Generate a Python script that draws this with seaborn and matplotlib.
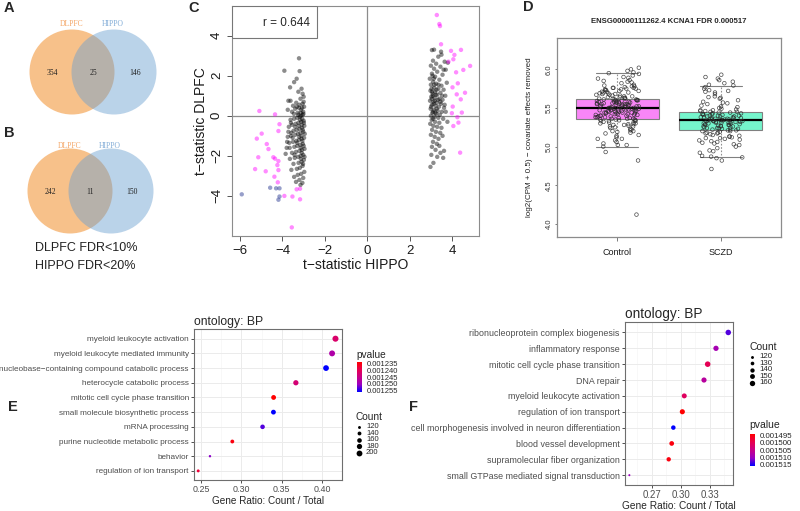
import numpy as np
import pandas as pd
import matplotlib
matplotlib.use('Agg')
import matplotlib.pyplot as plt
import seaborn as sns
from matplotlib.patches import Circle, Rectangle
from matplotlib.colors import LinearSegmentedColormap, Normalize
from matplotlib.cm import ScalarMappable
from matplotlib.ticker import AutoMinorLocator

sns.set_style('white')
plt.rcParams['font.family'] = ['Liberation Sans', 'DejaVu Sans']
plt.rcParams['axes.unicode_minus'] = True

# ---- A / B: venn counts (DLPFC only, both, HIPPO only)
venn_sets = ['DLPFC', 'HIPPO']
venn_a = [354, 25, 146]
venn_b = [242, 11, 150]

# ---- C: t-statistics, HIPPO (x) vs DLPFC (y)
left_x = [-3.22, -3.91, -3.19, -3.33, -3.45, -3.64, -3.10, -3.05, -3.72, -3.62, -3.25, -3.00, -3.15, -3.35,
          -3.05, -2.98, -3.20, -3.50, -3.75, -3.55, -3.40, -3.12, -3.02, -3.28,
          -3.05, -3.18, -3.30, -3.45, -3.62, -3.00, -3.12, -3.25, -3.38, -3.55, -3.70, -2.97, -3.08, -3.20,
          -3.33, -3.48, -3.02, -3.15, -3.27, -3.40, -3.60, -3.75, -2.98, -3.10, -3.22, -3.35, -3.50, -3.68,
          -3.04, -3.16, -3.30, -3.44, -3.80, -2.96, -3.08, -3.20, -3.36, -3.55, -3.02, -3.14, -3.26, -3.42,
          -3.65, -2.99, -3.10, -3.24, -3.48, -3.05, -3.18, -3.32, -3.58, -2.97, -3.12, -3.28, -3.45, -3.02,
          -3.20, -3.36, -3.06, -3.15,
          -3.01, -3.07, -3.13, -2.99, -3.09, -3.17, -3.04, -3.11, -2.95, -3.06, -3.14, -3.00, -3.09, -2.96,
          -3.03, -3.13, -3.21, -3.23, -3.26, -3.31, -3.40, -3.52, -3.43, -3.58, -3.66, -3.00, -3.08, -3.14,
          -3.22, -3.32, -3.46, -3.60, -3.72, -3.78, -3.85]
left_y = [2.87, 2.25, 2.23, 1.85, 1.68, 1.42, 1.35, 1.10, 0.75, 0.75, 1.20, 0.95, 0.85, 0.65,
          0.60, 0.45, 0.55, 0.50, 0.30, 0.20, 0.35, 0.30, 0.20, 0.15,
          0.05, -0.05, -0.10, -0.15, -0.20, -0.25, -0.30, -0.35, -0.40, -0.45, -0.55, -0.50, -0.60, -0.65,
          -0.70, -0.75, -0.80, -0.85, -0.90, -0.95, -1.00, -1.05, -1.10, -1.15, -1.20, -1.25, -1.30, -1.35,
          -1.40, -1.45, -1.50, -1.55, -1.60, -1.65, -1.70, -1.75, -1.80, -1.85, -1.95, -2.00, -2.05, -2.10,
          -2.15, -2.20, -2.30, -2.35, -2.40, -2.50, -2.60, -2.65, -2.70, -2.80, -2.90, -2.95, -3.05, -3.10,
          -3.20, -3.30, -3.35, -3.45,
          0.10, -0.15, 0.00, -0.35, -0.45, -0.20, -0.70, -1.00, -0.90, -1.25, -1.60, -1.50, -1.85, -2.05,
          -2.40, -2.15, -1.05, -0.50, 0.05, -1.35, -0.55, -1.10, -1.95, -0.85, -1.60, 0.70, 0.40, 0.15,
          0.40, 0.45, 0.10, -0.35, -0.80, -1.30, -1.90]
right_x = [3.15, 3.05, 3.50, 3.35, 3.10, 3.65, 3.25, 3.00, 3.45, 3.15, 3.70, 3.30, 3.05, 3.55, 3.20,
           2.95, 3.40, 3.10, 3.75, 3.25, 3.00, 3.50, 3.15, 3.35, 3.60, 2.98, 3.20, 3.45, 3.08, 3.30,
           3.68, 3.02, 3.18, 3.40, 3.55, 2.96, 3.12, 3.28, 3.48, 3.05, 3.22, 3.38, 3.62, 2.99, 3.14,
           3.32, 3.52, 3.07, 3.25, 3.42, 3.00, 3.17, 3.35, 3.58, 3.04, 3.20, 3.40, 2.97, 3.12, 3.30,
           3.50, 3.06, 3.24, 3.44, 3.00, 3.18, 3.36, 3.10, 3.28, 3.05, 3.22, 3.62, 3.45, 3.02, 3.30,
           3.58, 3.12, 2.98,
           3.03, 3.09, 3.13, 3.01, 3.10, 3.19, 3.06, 3.23, 3.16, 3.27, 3.11, 3.04, 3.21, 3.33, 3.14,
           3.08, 3.26, 3.36, 3.45, 3.53, 3.65, 3.70, 3.78, 3.55, 3.40, 3.60, 3.80, 3.48]
right_y = [3.30, 3.28, 3.05, 2.95, 2.75, 2.70, 2.60, 2.50, 2.45, 2.35, 2.30, 2.20, 2.10, 2.05, 1.95,
           1.85, 1.80, 1.70, 1.65, 1.60, 1.55, 1.50, 1.40, 1.35, 1.30, 1.25, 1.20, 1.15, 1.10, 1.05,
           1.00, 0.95, 0.90, 0.85, 0.80, 0.75, 0.70, 0.65, 0.60, 0.55, 0.50, 0.45, 0.40, 0.35, 0.30,
           0.25, 0.20, 0.15, 0.10, 0.05, 0.00, -0.05, -0.10, -0.15, -0.20, -0.30, -0.35, -0.40, -0.50, -0.55,
           -0.60, -0.70, -0.80, -0.85, -0.95, -1.05, -1.15, -1.30, -1.40, -1.55, -1.70, -1.75, -1.85, -1.95, -2.05,
           -2.10, -2.35, -2.55,
           1.35, 1.00, 0.60, 0.45, 0.20, 0.75, 1.20, 1.05, 1.55, 0.35, -0.15, 0.85, 0.15, 0.80, 1.85,
           2.00, 1.30, 1.55, 0.70, 1.00, 0.55, 0.20, -0.30, -1.00, -1.50, 2.30, 2.65, 3.20]
magenta_x = [-5.09, -4.35, -5.21, -4.98, -4.74, -4.66, -4.14, -4.19, -5.14, -5.29, -4.79, -4.43, -4.35,
             -4.19, -4.24, -4.38, -4.19, -4.22, -3.91, -3.53, -3.17, -3.33, -3.17, -3.56,
             3.28, 3.40, 3.43, 3.48, 3.95, 4.11, 4.42, 4.06, 3.83, 4.85, 4.53, 4.19, 4.27, 4.02, 4.22,
             4.61, 4.03, 4.41, 4.46, 3.99, 4.25, 4.06, 4.30, 4.38]
magenta_y = [0.24, 0.07, -1.14, -0.89, -1.41, -1.66, -0.42, -0.76, -2.07, -2.66, -2.77, -2.07, -2.14,
             -2.26, -2.46, -3.04, -2.71, -3.32, -4.00, -4.03, -4.17, -3.67, -3.64, -5.57,
             5.03, 4.58, 4.48, 3.57, 3.24, 3.04, 3.29, 2.82, 2.70, 2.49, 2.29, 2.17, 1.62, 1.42, 1.07,
             1.15, 0.46, 0.82, 0.16, 0.13, -0.07, -0.51, -0.34, -1.84]
slate_x = [-5.92, -4.58, -4.30, -4.14, -4.14, -4.19]
slate_y = [-3.92, -3.59, -3.62, -3.62, -4.03, -4.19]
r_value = 0.644

# ---- D: KCNA1 expression
d_title = 'ENSG00000111262.4 KCNA1 FDR 0.000517'
d_groups = ['Control', 'SCZD']
control_expr = [4.12, 4.82, 4.93, 5.00, 5.02, 5.02, 5.04, 5.08, 5.10, 5.10, 5.12, 5.15, 5.17, 5.18, 5.20,
                5.20, 5.21, 5.22, 5.24, 5.25, 5.26, 5.27, 5.28, 5.29, 5.30, 5.30, 5.31, 5.32, 5.33, 5.33,
                5.34, 5.35, 5.35, 5.36, 5.36, 5.37, 5.38, 5.38, 5.39, 5.40, 5.40, 5.41, 5.41, 5.42, 5.42,
                5.43, 5.43, 5.44, 5.44, 5.45, 5.45, 5.46, 5.46, 5.47, 5.47, 5.48, 5.48, 5.49, 5.49, 5.50,
                5.50, 5.50, 5.51, 5.51, 5.52, 5.52, 5.53, 5.53, 5.54, 5.54, 5.55, 5.55, 5.56, 5.56, 5.57,
                5.57, 5.58, 5.58, 5.59, 5.59, 5.60, 5.60, 5.61, 5.61, 5.62, 5.62, 5.63, 5.64, 5.65, 5.66,
                5.67, 5.68, 5.69, 5.70, 5.71, 5.72, 5.73, 5.74, 5.75, 5.76, 5.76, 5.77, 5.78, 5.80, 5.82,
                5.84, 5.85, 5.88, 5.90, 5.92, 5.94, 5.95, 5.98, 6.00, 6.02,
                5.28, 5.33, 5.38, 5.41, 5.44, 5.46, 5.49, 5.52, 5.55, 5.58, 5.61, 5.64, 5.69, 5.74,
                5.06, 5.14, 5.19, 5.23, 5.26, 5.31, 5.34, 5.37, 5.39, 5.42, 5.45, 5.47, 5.48, 5.50,
                5.51, 5.53, 5.54, 5.56, 5.57, 5.59, 5.60, 5.63, 5.66, 5.68, 5.71, 5.73, 5.75, 5.78,
                5.35, 5.40, 5.43, 5.46, 5.49, 5.52, 5.55, 5.58, 5.62, 5.65, 5.70, 5.76, 5.83, 5.89,
                5.29, 5.36, 5.44, 5.50, 5.53, 5.57, 5.60, 5.67, 5.72, 5.79, 5.86, 5.96]
sczd_expr = [4.71, 4.82, 4.85, 4.86, 4.87, 4.88, 4.92, 4.94, 4.98, 5.00, 5.02, 5.04, 5.05, 5.06, 5.08,
             5.09, 5.10, 5.11, 5.12, 5.13, 5.14, 5.15, 5.16, 5.17, 5.18, 5.19, 5.20, 5.21, 5.21, 5.22,
             5.23, 5.24, 5.24, 5.25, 5.26, 5.26, 5.27, 5.28, 5.28, 5.29, 5.30, 5.30, 5.31, 5.31, 5.32,
             5.32, 5.33, 5.33, 5.34, 5.34, 5.35, 5.35, 5.36, 5.36, 5.37, 5.37, 5.38, 5.38, 5.39, 5.40,
             5.40, 5.41, 5.42, 5.42, 5.43, 5.44, 5.45, 5.45, 5.46, 5.47, 5.48, 5.49, 5.50, 5.52, 5.53,
             5.55, 5.57, 5.58, 5.60, 5.62, 5.64, 5.65, 5.68, 5.70, 5.72, 5.73, 5.75, 5.77, 5.79, 5.80,
             5.82, 5.84, 5.86, 5.88, 5.90, 5.93,
             5.27, 5.31, 5.35, 5.39, 5.43, 5.25, 5.33,
             5.07, 5.13, 5.17, 5.20, 5.23, 5.26, 5.29, 5.31, 5.33, 5.35, 5.37, 5.39, 5.41, 5.44,
             5.47, 5.51, 5.56, 5.63, 5.71, 5.22, 5.28, 5.32, 5.34, 5.36, 5.38, 5.42, 5.46, 5.18,
             5.03, 4.95, 5.11, 5.24, 5.30, 5.40]
box_q1 = [5.36, 5.21]
box_med = [5.50, 5.34]
box_q3 = [5.62, 5.45]
whisk_lo = [5.00, 4.87]
whisk_hi = [5.95, 5.79]

# ---- E: GO BP enrichment
e_terms = ['myeloid leukocyte activation', 'myeloid leukocyte mediated immunity',
           'nucleobase\u2212containing compound catabolic process', 'heterocycle catabolic process',
           'mitotic cell cycle phase transition', 'small molecule biosynthetic process',
           'mRNA processing', 'purine nucleotide metabolic process', 'behavior',
           'regulation of ion transport']
e_ratio = [0.4167, 0.4125, 0.405, 0.3676, 0.3400, 0.3398, 0.3263, 0.2888, 0.2611, 0.2465]
e_count = [208, 203, 197, 180, 166, 166, 159, 140, 112, 121]
e_pvalue = [0.001242, 0.001248, 0.001256, 0.001243, 0.001234, 0.001256, 0.001253, 0.001235, 0.001251, 0.001238]
e_pticks = [0.001235, 0.001240, 0.001245, 0.001250, 0.001255]
e_cticks = [120, 140, 160, 180, 200]

# ---- F: GO BP enrichment
f_terms = ['ribonucleoprotein complex biogenesis', 'inflammatory response',
           'mitotic cell cycle phase transition', 'DNA repair', 'myeloid leukocyte activation',
           'regulation of ion transport', 'cell morphogenesis involved in neuron differentiation',
           'blood vessel development', 'supramolecular fiber organization',
           'small GTPase mediated signal transduction']
f_ratio = [0.3489, 0.3362, 0.3276, 0.3238, 0.3034, 0.3014, 0.2921, 0.2904, 0.2873, 0.2466]
f_count = [163, 158, 164, 156, 152, 155, 143, 147, 141, 112]
f_pvalue = [0.001513, 0.001509, 0.001500, 0.001507, 0.001501, 0.001494, 0.001516, 0.001495, 0.001495, 0.001510]
f_pticks = [0.001495, 0.001500, 0.001505, 0.001510, 0.001515]
f_cticks = [120, 130, 140, 150, 160]

W, H = 800, 511
fig = plt.figure(figsize=(8, 5.11), dpi=100)
bg = fig.add_axes([0, 0, 1, 1])
bg.set_xlim(0, W)
bg.set_ylim(H, 0)
bg.axis('off')


def px_axes(l, t, r, b):
    return fig.add_axes([l / W, 1 - b / H, (r - l) / W, (b - t) / H])


# panel letters
for letter, x, y in [('A', 4, 8), ('B', 4, 133), ('C', 188, 8), ('D', 523, 7), ('E', 8, 407), ('F', 409, 407)]:
    bg.text(x, y, letter, fontsize=10.5, fontweight='bold', ha='left', va='center')

# ---- venns
orange, blue = '#F28E2B', '#6A9FD0'
for counts, lx, rx, cy, laby in [(venn_a, 72, 114, 72, 24), (venn_b, 70, 111, 191, 146)]:
    bg.add_patch(Circle((lx, cy), 42.5, facecolor=orange, alpha=0.55, edgecolor='none'))
    bg.add_patch(Circle((rx, cy), 42.5, facecolor=blue, alpha=0.46, edgecolor='none'))
    bg.text(lx, laby, venn_sets[0], color='#F4A463', fontsize=5.5, family='Liberation Serif', ha='center', va='center')
    bg.text(rx - 1, laby, venn_sets[1], color='#7FAAD6', fontsize=5.5, family='Liberation Serif', ha='center', va='center')
    for val, x in zip(counts, [lx - 20, (lx + rx) / 2, rx + 21]):
        bg.text(x, cy + 1, str(val), fontsize=5.5, family='Liberation Serif', ha='center', va='center', color='#222222')
bg.text(35, 248, 'DLPFC FDR<10%', fontsize=9, ha='left', va='center', color='#222222')
bg.text(35, 266, 'HIPPO FDR<20%', fontsize=9, ha='left', va='center', color='#222222')

# ---- C scatter
dfc = pd.DataFrame({
    'hippo': left_x + right_x + magenta_x + slate_x,
    'dlpfc': left_y + right_y + magenta_y + slate_y,
    'group': ['hippo_only'] * (len(left_x) + len(right_x)) + ['both'] * len(magenta_x) + ['dlpfc_only'] * len(slate_x),
})
axc = px_axes(232, 6, 479, 236)
axc.axhline(0, color='#8c8c8c', lw=0.9, zorder=1)
axc.axvline(0, color='#8c8c8c', lw=0.9, zorder=1)
sns.scatterplot(data=dfc, x='hippo', y='dlpfc', hue='group',
                palette={'hippo_only': '#000000', 'both': '#FF00FF', 'dlpfc_only': '#1A2A8A'},
                alpha=0.45, s=10, linewidth=0, legend=False, ax=axc, zorder=2)
axc.set_xlim(-6.38, 5.27)
axc.set_ylim(-6.0, 5.48)
axc.set_xticks([-6, -4, -2, 0, 2, 4])
axc.set_yticks([-4, -2, 0, 2, 4])
axc.set_yticklabels([str(v).replace('-', '\u2212') for v in [-4, -2, 0, 2, 4]], rotation=90, va='center')
axc.tick_params(axis='both', direction='out', length=3.5, width=0.7, color='#555555', labelsize=9.5,
                labelcolor='#1a1a1a', pad=3, left=True, bottom=True)
axc.set_xlabel('t\u2212statistic HIPPO', fontsize=10, color='#1a1a1a', labelpad=1)
axc.set_ylabel('t\u2212statistic DLPFC', fontsize=10, color='#1a1a1a', labelpad=2)
for sp in axc.spines.values():
    sp.set_color('#8c8c8c')
    sp.set_linewidth(0.8)
axc.add_patch(Rectangle((0, 1 - 32 / 230), 85 / 247, 32 / 230, transform=axc.transAxes,
                        facecolor='white', edgecolor='#777777', lw=0.8, zorder=4))
axc.text(78 / 247, 1 - 17 / 230, f'r = {r_value}', transform=axc.transAxes, ha='right', va='center',
         fontsize=8.5, zorder=5)

# ---- D boxplot + points
dfd = pd.DataFrame({'group': ['Control'] * len(control_expr) + ['SCZD'] * len(sczd_expr),
                    'expr': control_expr + sczd_expr})
axd = px_axes(557, 38, 781, 237)
stats = [dict(q1=box_q1[i], med=box_med[i], q3=box_q3[i], whislo=whisk_lo[i], whishi=whisk_hi[i], fliers=[])
         for i in range(2)]
bp = axd.bxp(stats, positions=[0, 1], widths=0.8, patch_artist=True, showfliers=False, manage_ticks=False,
             boxprops=dict(edgecolor='#808080', linewidth=0.8),
             medianprops=dict(color='black', linewidth=1.6),
             whiskerprops=dict(color='#909090', linestyle=(0, (1.5, 1.5)), linewidth=0.8),
             capprops=dict(color='#808080', linewidth=0.8), capwidths=0.4)
for patch, col in zip(bp['boxes'], ['#F986F7', '#75F5CC']):
    patch.set_facecolor(col)
    patch.set_zorder(1)
n_before = len(axd.collections)
sns.stripplot(data=dfd, x='group', y='expr', order=d_groups, jitter=0.21, size=2.6, color='#333333',
              edgecolor='#2a2a2a', linewidth=0.5, alpha=0.85, ax=axd, zorder=3)
for coll in axd.collections[n_before:]:
    coll.set_facecolor('none')
    coll.set_edgecolor('#2a2a2a')
axd.set_xlim(-0.58, 1.58)
axd.set_ylim(3.83, 6.405)
axd.set_yticks([4.0, 4.5, 5.0, 5.5, 6.0])
axd.set_yticklabels(['4.0', '4.5', '5.0', '5.5', '6.0'], rotation=90, va='center')
axd.tick_params(axis='y', direction='out', length=1.5, width=0.6, color='#666666', labelsize=5.5, labelcolor='#333333', left=True, pad=1.5)
axd.tick_params(axis='x', direction='out', length=3, width=0.6, color='#666666', labelsize=6.5, labelcolor='#1a1a1a', bottom=True, pad=5)
axd.set_xlabel('')
axd.set_ylabel('log2(CPM + 0.5) \u2212 covariate effects removed', fontsize=5.8, color='#222222', labelpad=9)
axd.set_title(d_title, fontsize=5.6, fontweight='bold', pad=11)
for sp in axd.spines.values():
    sp.set_color('#8c8c8c')
    sp.set_linewidth(0.9)

# ---- E / F dotplots
go_cmap = LinearSegmentedColormap.from_list('go', ['#FF0000', '#E7004F', '#C80088', '#9900C2', '#0000FF'])


def dotplot(rect, terms, ratio, count, pvalue, xticks, xlim, sizes, label_fs, title_fs, xlab_fs, xlab_pad):
    ax = px_axes(*rect)
    df = pd.DataFrame({'term': terms, 'ratio': ratio, 'count': count, 'pvalue': pvalue})
    norm = Normalize(min(pvalue), max(pvalue))
    sns.scatterplot(data=df, x='ratio', y='term', hue='pvalue', hue_norm=norm, palette=go_cmap,
                    size='count', sizes=sizes, size_norm=(min(count), max(count)),
                    linewidth=0, legend=False, ax=ax, zorder=3)
    ax.set_xlim(*xlim)
    ax.set_ylim(len(terms) - 1 + 0.62, -0.66)
    ax.set_xticks(xticks)
    ax.set_xticklabels([f'{v:.2f}' for v in xticks])
    ax.xaxis.set_minor_locator(AutoMinorLocator(2))
    ax.grid(True, which='major', color='#EBEBEB', lw=0.7)
    ax.grid(True, which='minor', axis='x', color='#F3F3F3', lw=0.4)
    ax.tick_params(axis='both', which='major', direction='out', length=2.2, width=0.6, color='#333333',
                   labelsize=label_fs, labelcolor='#4D4D4D', pad=1.5, left=True, bottom=True)
    ax.tick_params(axis='x', which='major', labelsize=label_fs + 0.5)
    ax.tick_params(axis='x', which='minor', length=0)
    for sp in ax.spines.values():
        sp.set_color('#6e6e6e')
        sp.set_linewidth(0.8)
    ax.set_ylabel('')
    ax.set_xlabel('Gene Ratio: Count / Total', fontsize=xlab_fs, labelpad=xlab_pad)
    ax.set_title('ontology: BP', loc='left', fontsize=title_fs, pad=3)
    return norm


def count_legend(x, y, count, cticks, sizes, fs):
    bg.text(x - 1, y, 'Count', fontsize=fs + 1.8, ha='left', va='center')
    c0, c1 = min(count), max(count)
    for i, c in enumerate(cticks):
        yy = y + 10 + i * 6.4
        area = sizes[0] + (c - c0) / (c1 - c0) * (sizes[1] - sizes[0])
        bg.scatter([x + 1.5], [yy], s=area, color='black', linewidth=0)
        bg.text(x + 9, yy, str(c), fontsize=fs, ha='left', va='center')


def p_legend(x, y, top, bottom, norm, pticks, fs):
    bg.text(x - 1, y, 'pvalue', fontsize=fs + 1.8, ha='left', va='center')
    cax = px_axes(x, top, x + 5, bottom)
    cb = fig.colorbar(ScalarMappable(norm=norm, cmap=go_cmap), cax=cax)
    cax.invert_yaxis()
    cb.outline.set_visible(False)
    cb.set_ticks(pticks)
    cb.set_ticklabels([f'{v:.6f}' for v in pticks])
    cax.tick_params(length=1.2, width=0.5, color='white', labelsize=fs, pad=2)


e_sizes = (3.0, 19.0)
norm_e = dotplot((194, 329, 342, 480), e_terms, e_ratio, e_count, e_pvalue, [0.25, 0.30, 0.35, 0.40],
                 (0.2413, 0.4248), e_sizes, 5.9, 8.7, 7.2, 1.2)
p_legend(357, 355, 362, 392, norm_e, e_pticks, 5.5)
count_legend(357, 417, e_count, e_cticks, e_sizes, 5.5)

f_sizes = (2.2, 16.0)
norm_f = dotplot((625, 322, 733, 485), f_terms, f_ratio, f_count, f_pvalue, [0.27, 0.30, 0.33],
                 (0.2421, 0.3538), f_sizes, 6.4, 9.8, 7.3, 0.5)
count_legend(750, 347, f_count, f_cticks, f_sizes, 5.7)
p_legend(750, 425, 434, 466, norm_f, f_pticks, 5.7)

fig.savefig('out.png', dpi=100)
